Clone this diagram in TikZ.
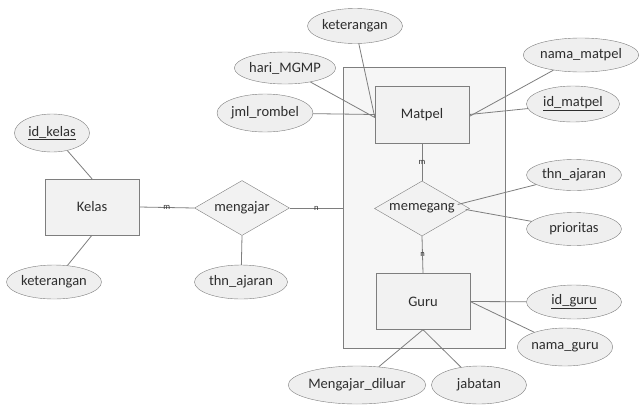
\documentclass[tikz,border=0pt]{standalone}
\usepackage{fontspec}
\setmainfont{Carlito}
\usetikzlibrary{shapes.geometric}
\definecolor{edgegray}{HTML}{7E7E7E}
\definecolor{boxfill}{HTML}{F2F2F2}
\definecolor{aggfill}{HTML}{F6F6F6}
\definecolor{attrfill}{HTML}{EFEFEF}
\definecolor{txt}{HTML}{2E2E2E}
\begin{document}
\begin{tikzpicture}[x=1pt,y=-1pt,
  every node/.style={text=txt, font=\fontsize{14.5}{16}\selectfont},
  entity/.style={draw=edgegray, fill=boxfill, minimum width=94pt, minimum height=56pt, inner sep=0pt},
  attr/.style={ellipse, draw=edgegray, fill=attrfill, minimum width=95pt, minimum height=35pt, inner sep=0pt},
  rel/.style={diamond, draw=edgegray, fill=boxfill, minimum width=95pt, minimum height=55pt, inner sep=0pt, aspect=1.7},
  link/.style={draw=edgegray, line width=0.8pt},
  card/.style={font=\fontsize{8.5}{9}\selectfont, inner sep=1pt}
]
\useasboundingbox (0,0) rectangle (640,405);

% aggregation box
\node[draw=edgegray, fill=aggfill, minimum width=162pt, minimum height=281pt, inner sep=0pt] (agg) at (424,207.5) {};

% entities
\node[entity] (kelas) at (92,207) {Kelas};
\node[entity, minimum height=57pt] (matpel) at (422,114.5) {Matpel};
\node[entity] (guru) at (423,301.5) {Guru};

% relationships
\node[rel] (mengajar) at (242,208) {mengajar};
\node[rel] (memegang) at (422,208.5) {memegang};

% attributes
\node[attr, minimum width=75pt, minimum height=38pt] (idkelas) at (52,133) {\underline{id\_kelas}};
\node[attr, minimum height=34pt] (ketk) at (54,282) {keterangan};
\node[attr, minimum height=34pt, minimum width=93pt] (thnm) at (241,282) {thn\_ajaran};
\node[attr] (ketm) at (355,26) {keterangan};
\node[attr, minimum width=96pt, minimum height=32pt] (hari) at (285,68) {hari\_MGMP};
\node[attr, minimum width=92pt, minimum height=38pt] (jml) at (265,113) {jml\_rombel};
\node[attr, minimum width=113pt, minimum height=34pt] (namam) at (581,55) {nama\_matpel};
\node[attr, minimum width=93pt, minimum height=36pt] (idm) at (573,104) {\underline{id\_matpel}};
\node[attr, minimum height=31pt] (thng) at (574,175) {thn\_ajaran};
\node[attr, minimum height=33pt] (prio) at (574,229) {prioritas};
\node[attr, minimum height=34pt] (idg) at (574,302) {\underline{id\_guru}};
\node[attr, minimum width=94pt, minimum height=38pt] (namag) at (565,347) {nama\_guru};
\node[attr, minimum width=115pt, minimum height=38pt] (mdl) at (357,385) {Mengajar\_diluar};
\node[attr, minimum height=38pt] (jab) at (479,385) {jabatan};

% connectors
\draw[link] (idkelas) -- (kelas.north);
\draw[link] (ketk) -- (kelas.south);
\draw[link] (kelas.east) -- node[card] {m} (mengajar.west);
\draw[link] (mengajar.east) -- node[card] {n} (mengajar.east -| agg.west);
\draw[link] (mengajar.south) -- (thnm);

\draw[link] (jml) -- (matpel.west);
\draw[link] (hari) -- ([yshift=-3pt]matpel.west);
\draw[link] (ketm) -- ([yshift=-3pt]matpel.west);
\draw[link] (namam) -- ([yshift=-2pt]matpel.east);
\draw[link] (idm) -- (matpel.east);

\draw[link] (matpel.south) -- node[card] {m} (memegang.north);
\draw[link] (memegang.south) -- node[card] {n} (guru.north);
\draw[link] ([xshift=-12pt,yshift=4pt]memegang.east) -- (thng);
\draw[link] ([xshift=-4pt,yshift=-1pt]memegang.east) -- (prio);

\draw[link] (idg) -- (guru.east);
\draw[link] (namag) -- (guru.east);
\draw[link] (mdl) -- (guru.south);
\draw[link] (jab) -- (guru.south);
\end{tikzpicture}
\end{document}
